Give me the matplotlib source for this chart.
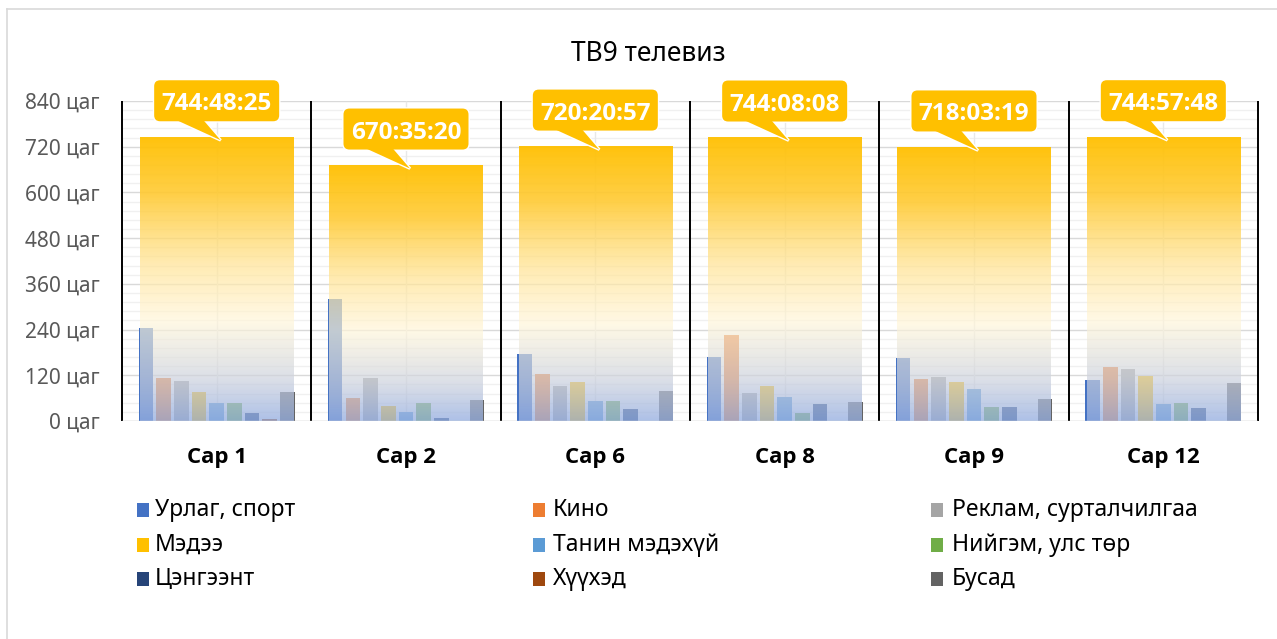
import matplotlib.pyplot as plt
import matplotlib.transforms as mtransforms
from matplotlib.patches import FancyBboxPatch, Polygon, Rectangle
from matplotlib.lines import Line2D
import numpy as np

plt.rcParams['font.family'] = ['Noto Sans', 'DejaVu Sans']
bold_family = ['Open Sans', 'DejaVu Sans']

# data (hours per month)
months = ["Сар 1", "Сар 2", "Сар 6", "Сар 8", "Сар 9", "Сар 12"]
total_labels = ["744:48:25", "670:35:20", "720:20:57", "744:08:08", "718:03:19", "744:57:48"]

series_names = ["Урлаг, спорт", "Кино", "Реклам, сурталчилгаа",
                "Мэдээ", "Танин мэдэхүй", "Нийгэм, улс төр",
                "Цэнгээнт", "Хүүхэд", "Бусад"]
series_colors = ["#4472C4", "#ED7D31", "#A5A5A5",
                 "#FFC000", "#5B9BD5", "#70AD47",
                 "#264478", "#9E480E", "#636363"]

urlag = [243, 319, 176, 167, 165, 107]
kino = [112, 60, 123, 226, 110, 143]
reklam = [105, 112, 93, 74, 116, 137]
medee = [77, 39, 103, 92, 102, 119]
tanin = [46, 23, 52, 62, 84, 45]
niigem = [48, 46, 53, 20, 37, 48]
tsengeent = [22, 7, 31, 45, 36, 34]
huuhed = [6, 0, 0, 0, 0, 0]
busad = [75, 55, 79, 50, 57, 101]
series_values = [urlag, kino, reklam, medee, tanin, niigem, tsengeent, huuhed, busad]


def to_hours(s):
    h, m, sec = (int(p) for p in s.split(":"))
    return h + m / 60 + sec / 3600


totals = [to_hours(s) for s in total_labels]

W, H = 1277, 639
fig = plt.figure(figsize=(W / 100, H / 100), dpi=100)
ax = fig.add_axes([122 / W, 218 / H, 1136 / W, 320 / H])

x = np.arange(len(months))

# grid
ax.set_yticks(np.arange(0, 841, 120))
ax.set_yticks(np.arange(0, 841, 24), minor=True)
ax.grid(which='major', axis='y', color='#D9D9D9', lw=1, zorder=0)
ax.grid(which='minor', axis='y', color='#F0F0F0', lw=1, zorder=0)
ax.set_axisbelow(True)
ax.vlines(x, 0, 840, color='#E8E8E8', lw=1, zorder=1)

# small bars
slot = 0.0935
for k, (vals, col) in enumerate(zip(series_values, series_colors)):
    ax.bar(x + (k - 4) * slot, vals, width=0.077, color=col, zorder=2)

# big total bars with gradient fill
stops = [0.0, 0.15, 0.35, 0.55, 0.8, 1.0]
cols = [(150, 175, 225), (205, 210, 222), (255, 246, 218),
        (255, 228, 150), (255, 202, 50), (255, 192, 0)]
alphas = [0.78, 0.7, 0.68, 0.72, 0.9, 0.95]
pos = np.linspace(0, 1, 300)
grad = np.zeros((300, 1, 4))
for c in range(3):
    grad[:, 0, c] = np.interp(pos, stops, [cc[c] / 255 for cc in cols])
grad[:, 0, 3] = np.interp(pos, stops, alphas)

bw = 0.81
for xi, tot in zip(x, totals):
    ax.imshow(grad, extent=[xi - bw / 2, xi + bw / 2, 0, tot], origin='lower',
              aspect='auto', interpolation='bilinear', zorder=3)

ax.vlines(np.arange(-0.5, len(months)), 0, 840, color='black', lw=1.4,
          zorder=4, clip_on=False)
ax.axhline(0, color='#D9D9D9', lw=1, zorder=4)

ax.set_xlim(-0.5, len(months) - 0.5)
ax.set_ylim(0, 840)
for s in ax.spines.values():
    s.set_visible(False)

ax.set_yticklabels([f"{v} цаг" for v in range(0, 841, 120)], fontsize=15, color='#595959')
ax.set_xticks(x)
ax.set_xticklabels(months, fontsize=16, fontweight='bold', color='black', family=bold_family)
ax.tick_params(which='both', length=0)
ax.tick_params(axis='y', pad=16)
ax.tick_params(axis='x', pad=19)

# callouts
for xi, tot, lab in zip(x, totals, total_labels):
    trans = (mtransforms.Affine2D().scale(1 / fig.dpi) + fig.dpi_scale_trans
             + mtransforms.ScaledTranslation(xi, tot, ax.transData))
    for edge, z in (('white', 5), ('none', 6)):
        ax.add_patch(FancyBboxPatch((-62.5, 16), 125, 41,
                                    boxstyle="round,pad=0,rounding_size=6",
                                    transform=trans, fc='#FFC000', ec=edge,
                                    lw=2, zorder=z, clip_on=False))
        ax.add_patch(Polygon([(-42, 18), (-14, 18), (4, -3)], closed=True,
                             transform=trans, fc='#FFC000', ec=edge,
                             lw=2, zorder=z, clip_on=False))
    ax.text(0, 27, lab, transform=trans, ha='center', va='baseline',
            fontsize=17.5, fontweight='bold', family=bold_family, color='white', zorder=7)

# title
fig.text(648 / W, 1 - 40 / H, "ТВ9 телевиз", ha='center', va='top', fontsize=19, color='black')

# legend (row-major, 3 columns)
mark_x = [137, 533, 931]
text_x = [155, 553, 952]
row_y = [510, 545, 579]
for k, (name, col) in enumerate(zip(series_names, series_colors)):
    r, c = divmod(k, 3)
    fig.add_artist(Rectangle((mark_x[c] / W, 1 - (row_y[r] + 7) / H), 12 / W, 14 / H,
                             transform=fig.transFigure, fc=col, ec='none'))
    fig.text(text_x[c] / W, 1 - row_y[r] / H, name, ha='left', va='center',
             fontsize=16.5, color='black')

# chart area border (left and top visible)
fig.add_artist(Line2D([7 / W, 7 / W], [0, 1 - 9 / H], transform=fig.transFigure,
                      color='#D9D9D9', lw=1.2))
fig.add_artist(Line2D([7 / W, 1], [1 - 9 / H, 1 - 9 / H], transform=fig.transFigure,
                      color='#D9D9D9', lw=1.2))

fig.savefig("out.png", dpi=100)
